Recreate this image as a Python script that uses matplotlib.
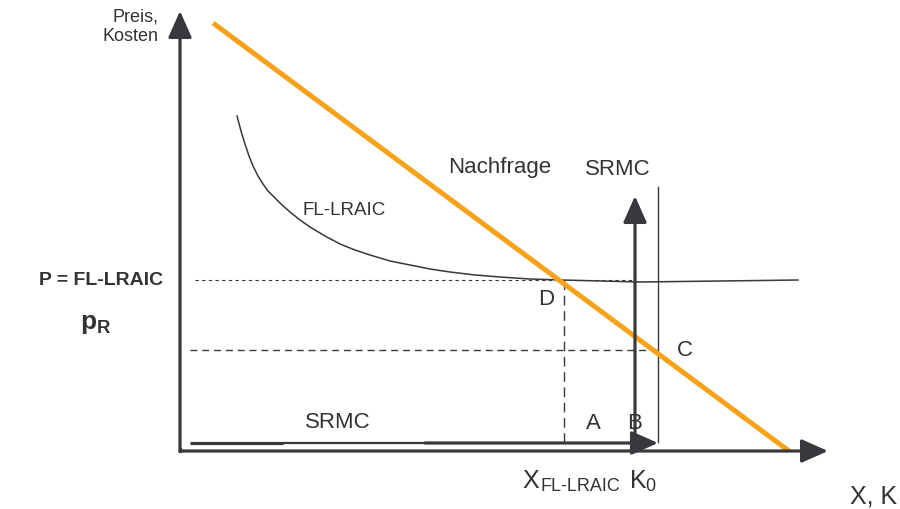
import matplotlib
matplotlib.use("Agg")
import matplotlib.pyplot as plt

plt.rcParams['font.family'] = ['Liberation Sans', 'DejaVu Sans']
plt.rcParams['mathtext.fontset'] = 'custom'
plt.rcParams['mathtext.rm'] = 'Liberation Sans'
plt.rcParams['mathtext.bf'] = 'Liberation Sans:bold'

# ---- diagram data (drawing units: 0..900 horizontally, 0..510 vertically, y downward) ----
origin = (180, 452)
y_axis_tip = (180, 12)
x_axis_tip = (828, 452)
srmc_h_start = (190, 444)
srmc_h_tip = (658, 444)
srmc_h_thin = [283, 425]
srmc_v_base = (635, 452)
srmc_v_tip = (635, 197)
capacity_x = [658, 658]
capacity_y = [188, 443]
demand_x = [213, 789]
demand_y = [24, 452]
lraic_x = [237, 241, 245, 249, 253, 258, 263, 268, 273, 281, 290, 300, 310, 325,
           340, 355, 370, 390, 410, 430, 450, 475, 500, 530, 562, 600, 640, 680,
           720, 760, 798]
lraic_y = [117, 132, 145, 157, 167, 177, 185, 192, 197, 205, 213, 221, 228, 237,
           245, 251, 256, 262, 266, 270, 273, 276, 278, 280, 281, 282, 283, 282.5,
           282, 281.5, 281]
p_level = 281
p_line_x = [195, 635]
pr_level = 351
pr_line_x = [190, 658]
x_lraic = 564
x_lraic_y = [281, 444]

AXC = '#38383d'
TXT = '#333333'
ORANGE = '#f7a21b'

fig = plt.figure(figsize=(9, 5.1), dpi=100)
ax = fig.add_axes([0, 0, 1, 1])
ax.set_xlim(0, 900)
ax.set_ylim(510, 0)
ax.axis('off')

arrow = dict(arrowstyle='-|>,head_length=0.9,head_width=0.4', lw=2.3, color=AXC,
             shrinkA=0, shrinkB=0, mutation_scale=18)
ax.annotate('', xy=y_axis_tip, xytext=origin, arrowprops=arrow)
ax.annotate('', xy=x_axis_tip, xytext=origin, arrowprops=arrow)
ax.plot([origin[0], origin[0]], [origin[1], origin[1] - 2], color=AXC, lw=2.3, solid_capstyle='projecting')
# lower SRMC arrow: thick outer pieces, thinner middle piece
ax.plot([srmc_h_start[0], srmc_h_thin[0]], [srmc_h_start[1]] * 2, color=AXC, lw=2.3,
        solid_capstyle='butt')
ax.plot(srmc_h_thin, [srmc_h_start[1]] * 2, color=AXC, lw=1.6, solid_capstyle='butt')
ax.annotate('', xy=srmc_h_tip, xytext=(srmc_h_thin[1], srmc_h_start[1]), arrowprops=arrow)
ax.annotate('', xy=srmc_v_tip, xytext=srmc_v_base, arrowprops=arrow)

ax.plot(capacity_x, capacity_y, color=AXC, lw=1.0)

ax.plot([p_line_x[0], p_line_x[1]], [p_level, p_level], color=AXC, lw=0.8,
        dashes=(3, 3))
ax.plot([pr_line_x[0], pr_line_x[1]], [pr_level, pr_level], color=AXC, lw=1.0,
        dashes=(5, 3.5))
ax.plot([x_lraic, x_lraic], x_lraic_y, color=AXC, lw=1.0, dashes=(7, 4))

ax.plot(lraic_x, lraic_y, color=AXC, lw=1.1)
ax.plot(demand_x, demand_y, color=ORANGE, lw=3.6, solid_capstyle='butt')

fs = 16
ax.text(158, 8, 'Preis,\nKosten', ha='right', va='top', fontsize=13, color=TXT, linespacing=1.2)
ax.text(448, 168, 'Nachfrage', ha='left', va='center', fontsize=fs, color=TXT)
ax.text(585, 170, 'SRMC', ha='left', va='center', fontsize=fs, color=TXT)
ax.text(303, 211, 'FL-LRAIC', ha='left', va='center', fontsize=13.5, color=TXT)
ax.text(163, 281, 'P = FL-LRAIC', ha='right', va='center', fontsize=14, color=TXT, fontweight='bold')
ax.text(80, 324, r'$\mathbf{p}_{\mathbf{R}}$', ha='left', va='center', fontsize=19, color=TXT)
ax.text(538, 300, 'D', ha='left', va='center', fontsize=fs, color=TXT)
ax.text(677, 351, 'C', ha='left', va='center', fontsize=fs, color=TXT)
ax.text(586, 424, 'A', ha='left', va='center', fontsize=fs, color=TXT)
ax.text(627, 424, 'B', ha='left', va='center', fontsize=fs, color=TXT)
ax.text(305, 423, 'SRMC', ha='left', va='center', fontsize=fs, color=TXT)
ax.text(522, 488, 'X', ha='left', va='baseline', fontsize=18, color=TXT)
ax.text(541, 491, 'FL-LRAIC', ha='left', va='baseline', fontsize=13, color=TXT)
ax.text(630, 488, 'K', ha='left', va='baseline', fontsize=18, color=TXT)
ax.text(645, 491, '0', ha='left', va='baseline', fontsize=13, color=TXT)
ax.text(850, 497, 'X, K', ha='left', va='center', fontsize=18, color=TXT)

fig.savefig('out.png', dpi=100)
